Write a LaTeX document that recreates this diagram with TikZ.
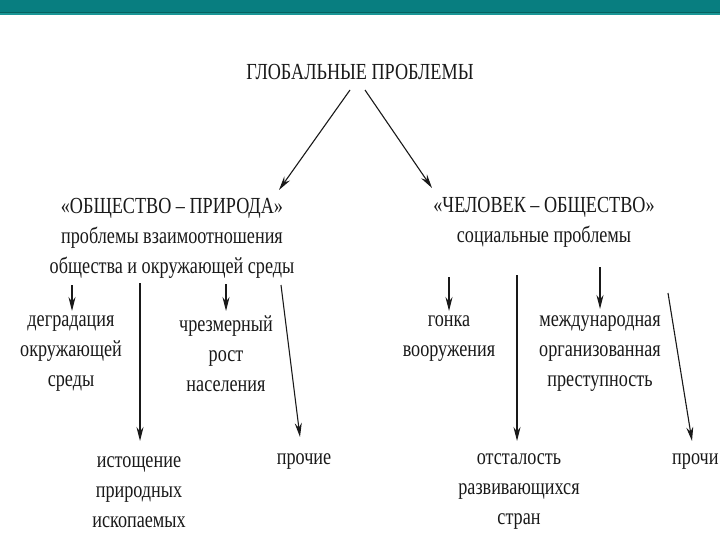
\documentclass[tikz,border=0pt]{standalone}
\usepackage{fontspec}
\setmainfont{Liberation Serif}[FakeStretch=0.79]
\usetikzlibrary{arrows.meta}
\definecolor{bar}{RGB}{8,126,128}
\definecolor{barline}{RGB}{6,98,96}
\definecolor{barlight}{RGB}{26,150,150}
\definecolor{ink}{RGB}{25,25,25}
\tikzset{
  lbl/.style={align=center, inner sep=1pt, text=ink, font=\fontsize{23}{30}\selectfont},
  arr/.style={draw=ink, line width=1.1pt, -{Stealth[length=14pt,width=7pt]}}
}
\begin{document}
\begin{tikzpicture}[x=1pt,y=-1pt]
\useasboundingbox (0,0) rectangle (720,540);
\fill[white] (0,0) rectangle (720,540);
\fill[bar] (0,0) rectangle (720,12);
\fill[barline] (0,12) rectangle (720,13.2);
\fill[barlight] (0,13.2) rectangle (720,15);

\node[lbl] (title) at (360,72) {ГЛОБАЛЬНЫЕ ПРОБЛЕМЫ};
\node[lbl] (left) at (172,238) {«ОБЩЕСТВО – ПРИРОДА»\\проблемы взаимоотношения\\общества и окружающей среды};
\node[lbl] (right) at (544,222.5) {«ЧЕЛОВЕК – ОБЩЕСТВО»\\социальные проблемы};

\node[lbl] (degr) at (71,354) {деградация\\окружающей\\среды};
\node[lbl] (istosh) at (139,492) {истощение\\природных\\ископаемых};
\node[lbl] (chrezm) at (226,354) {чрезмерный\\рост\\населения};
\node[lbl] (proch1) at (304,462) {прочие};
\node[lbl] (gonka) at (449,339) {гонка\\вооружения};
\node[lbl] (otstal) at (519,492) {отсталость\\развивающихся\\стран};
\node[lbl] (mezhd) at (600,354) {международная\\организованная\\преступность};
\node[lbl, anchor=west] (proch2) at (671,462) {прочи};

\coordinate (t1) at (350,90);
\coordinate (t2) at (365,90);
\coordinate (h1) at (279,190);
\coordinate (h2) at (432,188);
\draw[arr] (t1) -- (h1);
\draw[arr] (t2) -- (h2);

\coordinate (s1) at (72,285);
\coordinate (s2) at (140,283);
\coordinate (s3) at (226,284);
\coordinate (s4) at (281,285);
\coordinate (e1) at (72,311);
\coordinate (e2) at (140,441);
\coordinate (e3) at (226,311);
\coordinate (e4) at (300,437);
\draw[arr] (s1) -- (e1);
\draw[arr] (s2) -- (e2);
\draw[arr] (s3) -- (e3);
\draw[arr] (s4) -- (e4);

\coordinate (s5) at (449,277);
\coordinate (s6) at (517,275);
\coordinate (s7) at (600,267);
\coordinate (s8) at (668,293);
\coordinate (e5) at (449,311);
\coordinate (e6) at (517,441);
\coordinate (e7) at (600,309);
\coordinate (e8) at (692,441);
\draw[arr] (s5) -- (e5);
\draw[arr] (s6) -- (e6);
\draw[arr] (s7) -- (e7);
\draw[arr] (s8) -- (e8);
\end{tikzpicture}
\end{document}
